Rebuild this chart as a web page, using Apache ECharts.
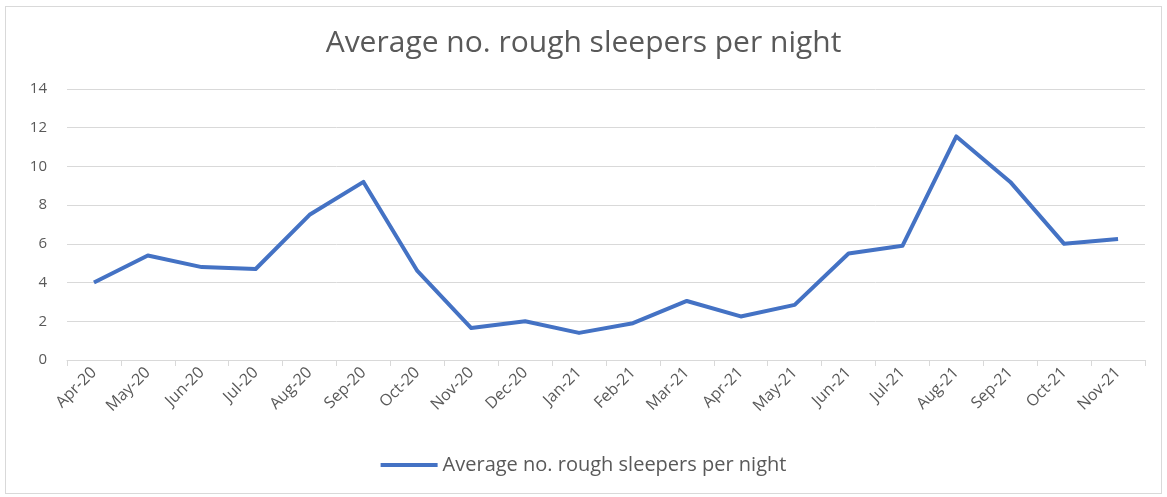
<!DOCTYPE html>
<html>
<head>
<meta charset="utf-8">
<script src="https://cdn.jsdelivr.net/npm/echarts@6/dist/echarts.min.js"></script>
<style>
    html, body { margin: 0; padding: 0; background: #fff; }
    #frame { position: absolute; left: 5px; top: 6px; width: 1155px; height: 486px; border: 1px solid #d9d9d9; }
    #chart { position: absolute; left: 0; top: 0; width: 1167px; height: 497px; }
</style>
</head>
<body>
<div id="frame"></div>
<div id="chart"></div>
<script>
    // months shown on the x axis
    var months = ['Apr-20', 'May-20', 'Jun-20', 'Jul-20', 'Aug-20', 'Sep-20', 'Oct-20', 'Nov-20', 'Dec-20', 'Jan-21',
        'Feb-21', 'Mar-21', 'Apr-21', 'May-21', 'Jun-21', 'Jul-21', 'Aug-21', 'Sep-21', 'Oct-21', 'Nov-21'];
    // average rough sleepers per night
    var sleepers = [4.0, 5.4, 4.8, 4.7, 7.5, 9.2, 4.6, 1.65, 2.0, 1.4,
        1.9, 3.05, 2.25, 2.85, 5.5, 5.9, 11.55, 9.2, 6.0, 6.25];
    var seriesName = 'Average no. rough sleepers per night';

    var myChart = echarts.init(document.getElementById('chart'));
    var option = {
        animation: false,
        textStyle: { fontFamily: '"Open Sans", sans-serif' },
        title: {
            text: seriesName,
            left: 'center',
            top: 23,
            textStyle: { color: '#595959', fontSize: 30, fontWeight: 'normal', fontFamily: '"Open Sans"' }
        },
        legend: {
            bottom: 17,
            left: 'center',
            icon: 'rect',
            itemWidth: 57,
            itemHeight: 4,
            itemGap: 4,
            textStyle: { color: '#595959', fontSize: 20, fontFamily: '"Open Sans"' },
            data: [seriesName]
        },
        grid: { left: 67, right: 22, top: 89, bottom: 137 },
        xAxis: {
            type: 'category',
            boundaryGap: true,
            data: months,
            axisLine: { lineStyle: { color: '#d9d9d9', width: 1 } },
            axisTick: { show: true, length: 6, lineStyle: { color: '#d9d9d9' } },
            axisLabel: { rotate: 45, color: '#595959', fontSize: 16, margin: 10, interval: 0 }
        },
        yAxis: {
            type: 'value',
            min: 0,
            max: 14,
            interval: 2,
            axisLine: { show: false },
            axisTick: { show: false },
            splitLine: { lineStyle: { color: '#d9d9d9', width: 1 } },
            axisLabel: { color: '#595959', fontSize: 15, margin: 20 }
        },
        series: [{
            name: seriesName,
            type: 'line',
            data: sleepers,
            symbol: 'none',
            lineStyle: { color: '#4472c4', width: 4, join: 'round' },
            itemStyle: { color: '#4472c4' }
        }]
    };
    myChart.setOption(option);
</script>
</body>
</html>
